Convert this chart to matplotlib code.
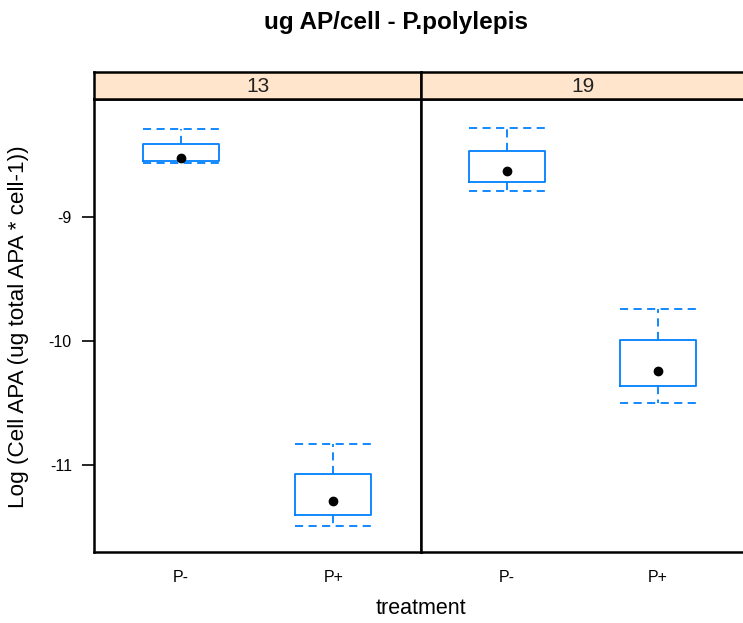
import matplotlib
matplotlib.use("Agg")
import matplotlib.pyplot as plt

plt.rcParams["font.family"] = ["Liberation Sans", "DejaVu Sans"]

# five-number summaries per panel (log cell APA)
panels = ["13", "19"]
treatments = ["P-", "P+"]
whisker_lo = {"13": [-8.56, -11.49], "19": [-8.79, -10.50]}
box_lo = {"13": [-8.55, -11.40], "19": [-8.72, -10.36]}
medians = {"13": [-8.52, -11.29], "19": [-8.63, -10.24]}
box_hi = {"13": [-8.41, -11.07], "19": [-8.47, -9.99]}
whisker_hi = {"13": [-8.29, -10.83], "19": [-8.28, -9.74]}

BOX_COL = "#0080ff"
STRIP_COL = "#ffe5cc"

fig = plt.figure(figsize=(7.43, 6.23), dpi=100)
W, H = 743.0, 623.0
left_px = [94, 421]
right_px = [421, 745]
top_px, bot_px, strip_top_px = 99, 552, 72

dash = (0, (4.5, 3))
for i, p in enumerate(panels):
    x0 = left_px[i] / W
    w = (right_px[i] - left_px[i]) / W
    ax = fig.add_axes([x0, 1 - bot_px / H, w, (bot_px - top_px) / H])
    stats = []
    for j, t in enumerate(treatments):
        stats.append(dict(whislo=whisker_lo[p][j], q1=box_lo[p][j], med=medians[p][j],
                          q3=box_hi[p][j], whishi=whisker_hi[p][j], fliers=[], label=t))
    ax.bxp(stats, positions=[1, 2], widths=0.5, capwidths=0.5, showfliers=False,
           boxprops=dict(color=BOX_COL, lw=1.3),
           whiskerprops=dict(color=BOX_COL, lw=1.3, linestyle=dash),
           capprops=dict(color=BOX_COL, lw=1.3, linestyle=dash),
           medianprops=dict(visible=False))
    ax.plot([1, 2], medians[p], "o", color="black", ms=6)
    ax.set_xlim(0.43, 2.575)
    ax.set_ylim(-11.70, -8.048)
    ax.set_xticks([1, 2])
    ax.set_xticklabels(treatments, fontsize=11.5)
    ax.tick_params(axis="x", length=0, pad=13)
    if i == 0:
        ax.set_yticks([-9, -10, -11])
        ax.set_yticklabels(["-9", "-10", "-11"], fontsize=11.5)
        ax.tick_params(axis="y", length=9, width=1.2, pad=7)
    else:
        ax.set_yticks([])
    for s in ax.spines.values():
        s.set_linewidth(1.8)

    # strip with panel label
    sax = fig.add_axes([x0, 1 - top_px / H, w, (top_px - strip_top_px) / H])
    sax.set_facecolor(STRIP_COL)
    sax.set_xticks([])
    sax.set_yticks([])
    for s in sax.spines.values():
        s.set_linewidth(1.8)
    sax.text(0.5, 0.45, p, ha="center", va="center", fontsize=15, color="#222222",
             transform=sax.transAxes)

fig.text(396 / W, 1 - 22 / H, "ug AP/cell - P.polylepis",
         ha="center", va="center", fontsize=17.5, fontweight="bold")
fig.text(421 / W, 1 - 608 / H, "treatment", ha="center", va="center", fontsize=15.5)
fig.text(19 / W, 1 - 327 / H, "Log (Cell APA (ug total APA * cell-1))", ha="center", va="center",
         rotation=90, fontsize=16.2)

fig.savefig("out.png", dpi=100)
